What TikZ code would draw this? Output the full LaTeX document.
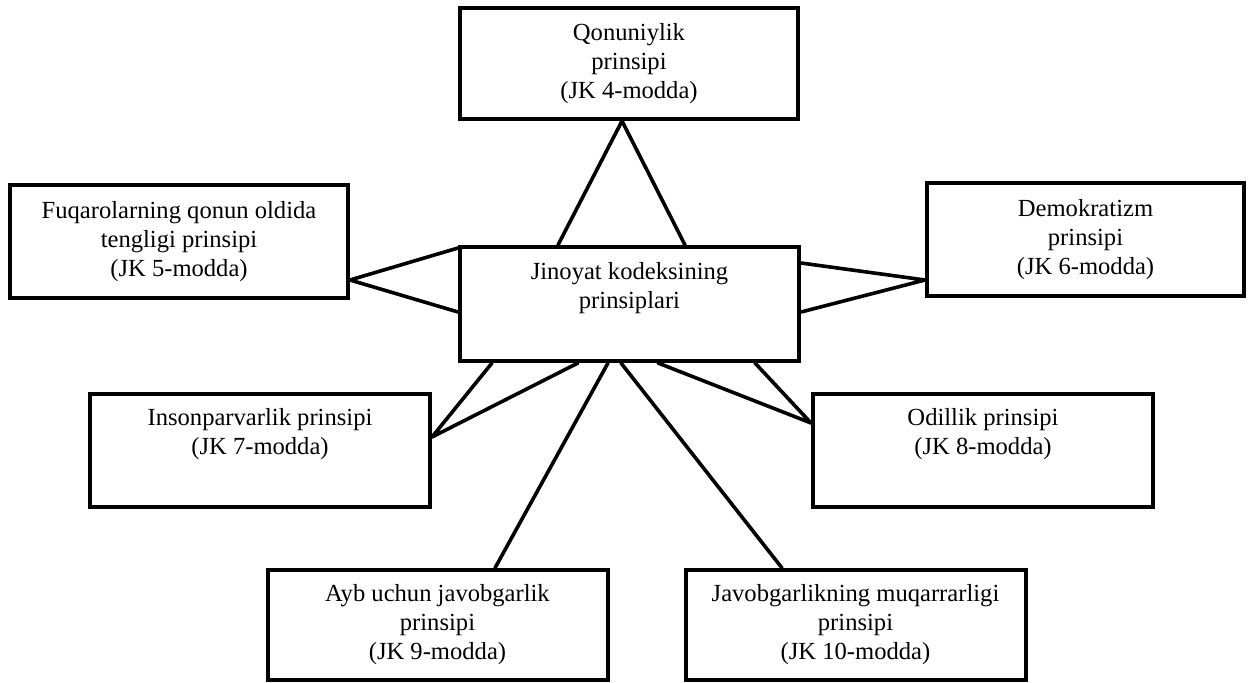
\documentclass[tikz,border=0pt]{standalone}
\usepackage{fontspec}
\setmainfont{Liberation Serif}
\tikzset
{
	my box/.style={draw,line width=4pt,align=center,inner sep=2pt,font=\fontsize{24.6}{29}\selectfont,minimum width=340pt,minimum height=113pt},
	my link/.style={line width=3.6pt,line cap=round,line join=round},
	raised text/.style={text depth=37pt}
}

\begin{document}
\begin{tikzpicture}[x=1pt,y=-1pt]
		\useasboundingbox[fill=white] (0,0) rectangle (1254,683);
		% boxes
		\node[my box,minimum width=338pt,minimum height=111pt] (qonun) at (629,63.5) {Qonuniylik\\prinsipi\\(JK 4-modda)};
		\node[my box,raised text,minimum width=339pt,minimum height=114pt] (markaz) at (629.5,304) {Jinoyat kodeksining\\prinsiplari};
		\node[my box,minimum width=338pt] (fuqaro) at (179,241.5) {Fuqarolarning qonun oldida\\tengligi prinsipi\\(JK 5-modda)};
		\node[my box,minimum width=317pt] (demokrat) at (1085.5,239.5) {Demokratizm\\prinsipi\\(JK 6-modda)};
		\node[my box,raised text] (inson) at (260,450) {Insonparvarlik prinsipi\\(JK 7-modda)};
		\node[my box,raised text] (odil) at (983,450) {Odillik prinsipi\\(JK 8-modda)};
		\node[my box,minimum height=110pt] (ayb) at (437.5,625) {Ayb uchun javobgarlik\\prinsipi\\(JK 9-modda)};
		\node[my box,minimum height=110pt] (javob) at (855.5,625) {Javobgarlikning muqarrarligi\\prinsipi\\(JK 10-modda)};
		% coordinates
		\coordinate (q0) at ([xshift=-7pt]qonun.south);
		\coordinate (q1) at ([xshift=-71.5pt]markaz.north);
		\coordinate (q2) at ([xshift=55.5pt]markaz.north);
		\coordinate (f0) at ([yshift=-38.5pt]fuqaro.east);
		\coordinate (f1) at ([yshift=56pt]markaz.west);
		\coordinate (f2) at ([yshift=-8pt]markaz.west);
		\coordinate (d0) at ([yshift=-40.5pt]demokrat.west);
		\coordinate (d1) at ([yshift=41pt]markaz.east);
		\coordinate (d2) at ([yshift=-8pt]markaz.east);
		\coordinate (i0) at ([yshift=13pt]inson.east);
		\coordinate (i1) at ([xshift=-137.5pt]markaz.south);
		\coordinate (i2) at ([xshift=-51.5pt]markaz.south);
		\coordinate (o0) at ([yshift=27pt]odil.west);
		\coordinate (o1) at ([xshift=28.5pt]markaz.south);
		\coordinate (o2) at ([xshift=125.5pt]markaz.south);
		\coordinate (a0) at ([xshift=57.5pt]ayb.north);
		\coordinate (a1) at ([xshift=-21.5pt]markaz.south);
		\coordinate (j0) at ([xshift=-73.5pt]javob.north);
		\coordinate (j1) at ([xshift=-8.5pt]markaz.south);
		% links
		\foreach\n in {q,f,d,i,o}
		\draw[my link] (\n1) -- (\n0) -- (\n2);
		\foreach\n in {a,j}
		\draw[my link] (\n1) -- (\n0);
	\end{tikzpicture}
\end{document}
